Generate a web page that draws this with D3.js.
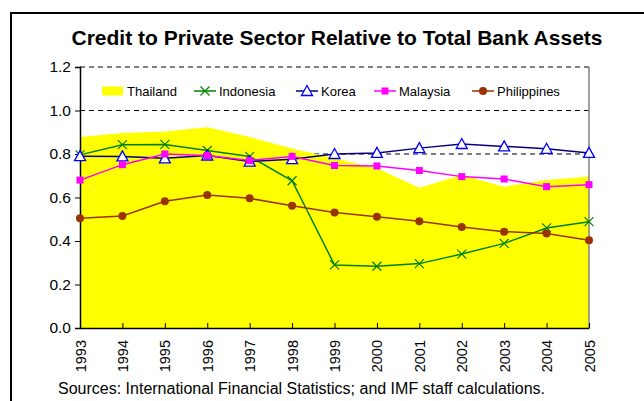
<!DOCTYPE html>
<html>
<head>
<meta charset="utf-8">
<script src="https://cdn.jsdelivr.net/npm/d3@7"></script>
<style>
  body { margin: 0; background: #fff; }
  svg { display: block; font-family: "Liberation Sans", Arial, sans-serif; }
</style>
</head>
<body>
<script>
const years = [1993, 1994, 1995, 1996, 1997, 1998, 1999, 2000, 2001, 2002, 2003, 2004, 2005];
const thailand    = [0.878, 0.897, 0.904, 0.923, 0.878, 0.825, 0.78, 0.735, 0.645, 0.703, 0.65, 0.68, 0.696];
const indonesia   = [0.796, 0.843, 0.844, 0.816, 0.789, 0.677, 0.29, 0.284, 0.296, 0.34, 0.389, 0.46, 0.489];
const korea       = [0.79, 0.789, 0.78, 0.793, 0.765, 0.776, 0.80, 0.805, 0.827, 0.846, 0.835, 0.824, 0.805];
const malaysia    = [0.68, 0.751, 0.80, 0.793, 0.77, 0.789, 0.747, 0.745, 0.724, 0.696, 0.685, 0.65, 0.659];
const philippines = [0.505, 0.515, 0.583, 0.611, 0.596, 0.562, 0.531, 0.511, 0.491, 0.464, 0.443, 0.435, 0.403];
const yTicks = [0, 0.2, 0.4, 0.6, 0.8, 1.0, 1.2];

const W = 644, H = 401;
const plot = { left: 80, right: 589, top: 67, bottom: 328 };

const svg = d3.select("body").append("svg")
  .attr("width", W)
  .attr("height", H);

svg.append("rect").attr("width", W).attr("height", H).attr("fill", "#fff");

// outer frame (runs off the right and bottom edges)
svg.append("rect")
  .attr("x", 11).attr("y", 13)
  .attr("width", 700).attr("height", 500)
  .attr("fill", "none")
  .attr("stroke", "#000")
  .attr("stroke-width", 2);

svg.append("text")
  .attr("x", 337).attr("y", 44.5)
  .attr("text-anchor", "middle")
  .style("font-weight", "bold")
  .style("font-size", "21px")
  .text("Credit to Private Sector Relative to Total Bank Assets");

const x = d3.scalePoint().domain(years).range([plot.left, plot.right]);
const y = d3.scaleLinear().domain([0, 1.2]).range([plot.bottom, plot.top]);

// dashed gridlines
svg.append("g").selectAll("line")
  .data(yTicks.filter(d => d > 0))
  .enter().append("line")
  .attr("x1", plot.left).attr("x2", plot.right)
  .attr("y1", d => y(d)).attr("y2", d => y(d))
  .attr("stroke", "#000")
  .attr("stroke-width", 1)
  .attr("stroke-dasharray", "5,4");

// Thailand area
const rows = years.map((yr, i) => ({ yr, v: thailand[i] }));
svg.append("path")
  .datum(rows)
  .attr("fill", "#ffff00")
  .attr("d", d3.area().x(d => x(d.yr)).y0(y(0)).y1(d => y(d.v)));

// right border of plot area
svg.append("line")
  .attr("x1", plot.right).attr("x2", plot.right)
  .attr("y1", plot.top).attr("y2", plot.bottom)
  .attr("stroke", "#808080")
  .attr("stroke-width", 1.5);

// axes
const yAxis = svg.append("g")
  .attr("transform", `translate(${plot.left},0)`)
  .call(d3.axisLeft(y).tickValues(yTicks).tickFormat(d3.format(".1f")).tickSize(5).tickPadding(4));
yAxis.select(".domain").attr("stroke-width", 1.5);
yAxis.selectAll("text").style("font-size", "15.5px").attr("fill", "#000").style("font-family", "Liberation Sans, Arial, sans-serif");

const xAxis = svg.append("g")
  .attr("transform", `translate(0,${plot.bottom})`)
  .call(d3.axisBottom(x).tickSize(-5).tickSizeOuter(0).tickFormat(d => d));
xAxis.select(".domain").attr("stroke-width", 1.5);
xAxis.selectAll("text")
  .style("font-size", "14.5px")
  .style("font-family", "Liberation Sans, Arial, sans-serif")
  .attr("fill", "#000")
  .attr("text-anchor", "end")
  .attr("transform", "rotate(-90)")
  .attr("x", -12)
  .attr("y", 0)
  .attr("dy", "0.35em");

// series lines
const series = [
  { name: "Indonesia", values: indonesia, line: "#008000", marker: "x" },
  { name: "Korea", values: korea, line: "#000080", marker: "tri" },
  { name: "Malaysia", values: malaysia, line: "#ff00ff", marker: "sq" },
  { name: "Philippines", values: philippines, line: "#993300", marker: "dot" }
];

function drawMarker(g, type, cx, cy) {
  if (type === "x") {
    g.append("path")
      .attr("d", `M${cx - 4.5},${cy - 4.5}L${cx + 4.5},${cy + 4.5}M${cx - 4.5},${cy + 4.5}L${cx + 4.5},${cy - 4.5}`)
      .attr("stroke", "#008000").attr("stroke-width", 1.2);
  } else if (type === "tri") {
    g.append("path")
      .attr("d", `M${cx},${cy - 5.5}L${cx + 5.5},${cy + 4.5}L${cx - 5.5},${cy + 4.5}Z`)
      .attr("fill", "#fff").attr("stroke", "#0000ff").attr("stroke-width", 1.3);
  } else if (type === "sq") {
    g.append("rect")
      .attr("x", cx - 3.5).attr("y", cy - 3.5)
      .attr("width", 7).attr("height", 7)
      .attr("fill", "#ff00ff");
  } else {
    g.append("circle")
      .attr("cx", cx).attr("cy", cy).attr("r", 4)
      .attr("fill", "#993300");
  }
}

const line = d3.line().x(d => x(d.yr)).y(d => y(d.v));
series.forEach(s => {
  const pts = years.map((yr, i) => ({ yr, v: s.values[i] }));
  const g = svg.append("g");
  g.append("path")
    .datum(pts)
    .attr("fill", "none")
    .attr("stroke", s.line)
    .attr("stroke-width", 1.5)
    .attr("d", line);
  pts.forEach(p => drawMarker(g, s.marker, x(p.yr), y(p.v)));
});

// legend
const legendY = 91;
const leg = svg.append("g").style("font-size", "13px");
leg.append("rect")
  .attr("x", 102).attr("y", legendY - 4.5)
  .attr("width", 21).attr("height", 9)
  .attr("fill", "#ffff00");
leg.append("text").attr("x", 127).attr("y", legendY + 4.5).text("Thailand");

const legendX = [194, 296, 374, 472];
series.forEach((s, i) => {
  const x0 = legendX[i];
  const g = leg.append("g");
  g.append("line")
    .attr("x1", x0).attr("x2", x0 + 22)
    .attr("y1", legendY).attr("y2", legendY)
    .attr("stroke", s.line).attr("stroke-width", 1.5);
  drawMarker(g, s.marker, x0 + 11, legendY);
  g.append("text").attr("x", x0 + 25).attr("y", legendY + 4.5).text(s.name);
});

svg.append("text")
  .attr("x", 58).attr("y", 394)
  .style("font-size", "16px")
  .text("Sources: International Financial Statistics; and IMF staff calculations.");
</script>
</body>
</html>
